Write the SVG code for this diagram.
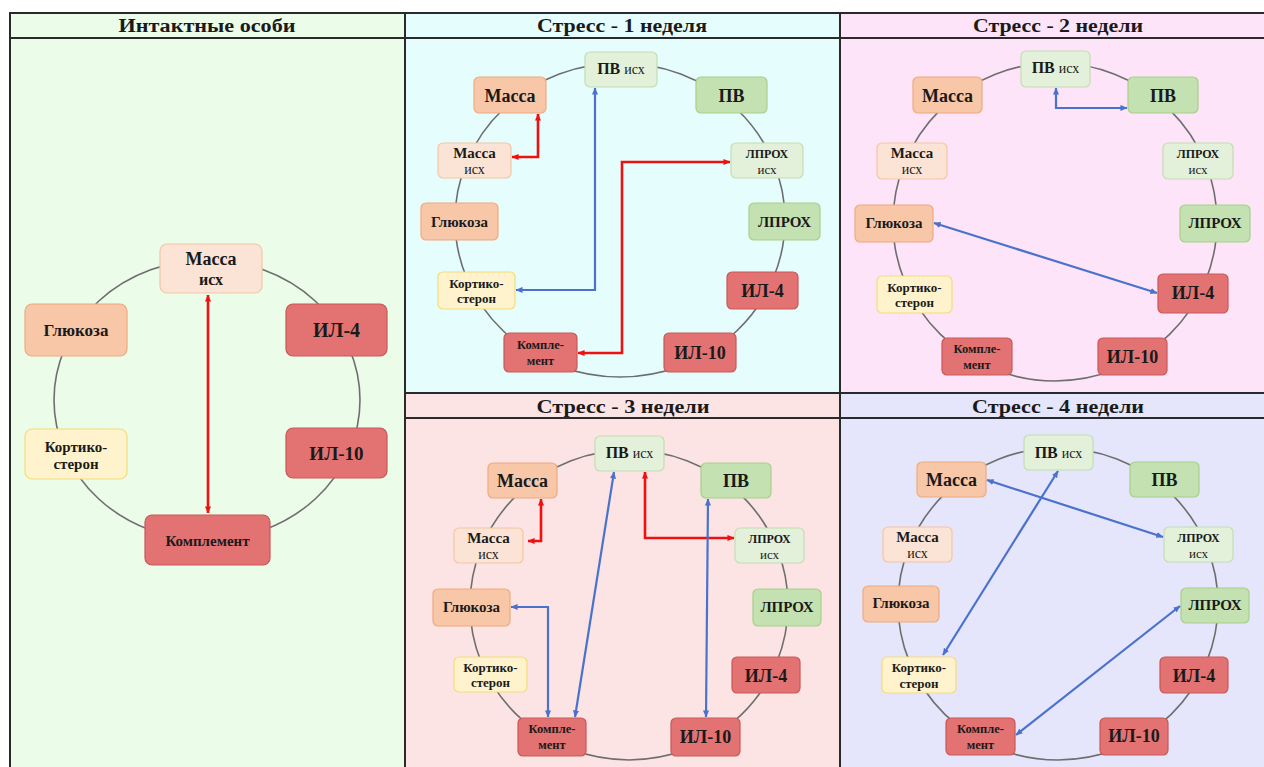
<svg xmlns="http://www.w3.org/2000/svg" width="1264" height="767" viewBox="0 0 1264 767">
<style>
text{font-family:"Liberation Serif","Times New Roman",serif;font-weight:bold;fill:#1a1a1a;text-anchor:middle}
.ttl{font-size:18px}
.thin{font-weight:normal}
.ring{fill:none;stroke:#6e6e6e;stroke-width:1.6}
.lp{fill:#fbe4d5;stroke:#f3c6a6;stroke-width:1.2}
.pe{fill:#f7c7a8;stroke:#eeaa80;stroke-width:1.2}
.rd{fill:#e37272;stroke:#c95858;stroke-width:1.2}
.ye{fill:#fff3cd;stroke:#f5dc7a;stroke-width:1.2}
.lg{fill:#e3f1da;stroke:#c4deb2;stroke-width:1.2}
.gr{fill:#c4e1b1;stroke:#a8cf8c;stroke-width:1.2}
.red{fill:none;stroke:#f01010;stroke-width:2.6;marker-start:url(#ar);marker-end:url(#ar)}
.blue{fill:none;stroke:#4a72cc;stroke-width:2.2;marker-start:url(#ab);marker-end:url(#ab)}
.grid{stroke:#2a2a2a;stroke-width:2;fill:none}
</style>
<defs>
<marker id="ar" viewBox="0 0 8 8" refX="7.5" refY="4" markerWidth="7" markerHeight="7" markerUnits="userSpaceOnUse" orient="auto-start-reverse"><path d="M0,0.5 L8,4 L0,7.5 z" fill="#f01010"/></marker>
<marker id="ab" viewBox="0 0 8 8" refX="7.5" refY="4" markerWidth="7" markerHeight="7" markerUnits="userSpaceOnUse" orient="auto-start-reverse"><path d="M0,0.5 L8,4 L0,7.5 z" fill="#4a72cc"/></marker>
</defs>
<rect x="0" y="0" width="1264" height="767" fill="#ffffff"/>
<g id="backgrounds">
<rect x="10" y="13" width="395" height="754" fill="#ebfce9"/>
<rect x="405" y="13" width="435" height="380" fill="#e6fdfd"/>
<rect x="840" y="13" width="424" height="380" fill="#fde4f8"/>
<rect x="405" y="393" width="435" height="374" fill="#fde4e4"/>
<rect x="840" y="393" width="424" height="374" fill="#e5e5fb"/>
</g>
<g id="grid">
<line class="grid" x1="10" y1="13" x2="1264" y2="13" stroke-width="2.5"/>
<line class="grid" x1="10" y1="38" x2="1264" y2="38"/>
<line class="grid" x1="405" y1="393" x2="1264" y2="393"/>
<line class="grid" x1="405" y1="418" x2="1264" y2="418"/>
<line class="grid" x1="10" y1="12" x2="10" y2="767" stroke-width="3"/>
<line class="grid" x1="405" y1="13" x2="405" y2="767"/>
<line class="grid" x1="840" y1="13" x2="840" y2="767"/>
</g>
<g id="titles">
<text class="ttl" x="207" y="32" textLength="177" lengthAdjust="spacingAndGlyphs">Интактные особи</text>
<text class="ttl" x="622" y="32" textLength="170" lengthAdjust="spacingAndGlyphs">Стресс - 1 неделя</text>
<text class="ttl" x="1058" y="32" textLength="170" lengthAdjust="spacingAndGlyphs">Стресс - 2 недели</text>
<text class="ttl" x="623" y="413" textLength="173" lengthAdjust="spacingAndGlyphs">Стресс - 3 недели</text>
<text class="ttl" x="1058" y="413" textLength="172" lengthAdjust="spacingAndGlyphs">Стресс - 4 недели</text>
</g>
<g id="rings">
<ellipse class="ring" cx="207" cy="400" rx="153" ry="140" stroke="#4a5a4a" stroke-width="1.8"/>
<ellipse class="ring" cx="620" cy="220" rx="165" ry="157"/>
<ellipse class="ring" cx="1055" cy="222" rx="162" ry="159"/>
<ellipse class="ring" cx="629" cy="605" rx="159" ry="155"/>
<ellipse class="ring" cx="1058" cy="604" rx="160" ry="156"/>
</g>

<!-- Intact panel -->
<g id="i-massa-ish"><rect class="lp" x="160" y="244" width="102" height="49" rx="7"/><text x="211" y="265" font-size="18">Масса</text><text x="211" y="285" font-size="16">исх</text></g>
<g id="i-glukoza"><rect class="pe" x="25" y="304" width="102" height="52" rx="7"/><text x="76" y="336" font-size="17">Глюкоза</text></g>
<g id="i-il4"><rect class="rd" x="286" y="304" width="101" height="52" rx="7"/><text x="336.5" y="337" font-size="20">ИЛ-4</text></g>
<g id="i-il10"><rect class="rd" x="286" y="428" width="101" height="50" rx="7"/><text x="336.5" y="460" font-size="19">ИЛ-10</text></g>
<g id="i-kortiko"><rect class="ye" x="25" y="429" width="102" height="50" rx="7"/><text x="76" y="452" font-size="15">Кортико-</text><text x="76" y="469" font-size="15">стерон</text></g>
<g id="i-komplement"><rect class="rd" x="145" y="515" width="125" height="50" rx="7"/><text x="207.5" y="546" font-size="15">Комплемент</text></g>

<!-- 1 week -->
<g id="w1-pv-ish"><rect class="lg" x="585" y="52" width="72" height="35" rx="5"/><text x="621" y="74" font-size="16">ПВ <tspan class="thin" font-size="14">исх</tspan></text></g>
<g id="w1-massa"><rect class="pe" x="474" y="77" width="72" height="36" rx="5"/><text x="510" y="102" font-size="18">Масса</text></g>
<g id="w1-pv"><rect class="gr" x="696" y="77" width="71" height="36" rx="5"/><text x="731.5" y="102" font-size="18">ПВ</text></g>
<g id="w1-massa-ish"><rect class="lp" x="438" y="143" width="73" height="35" rx="5"/><text x="474.5" y="158" font-size="15">Масса</text><text class="thin" x="474.5" y="174" font-size="14">исх</text></g>
<g id="w1-lprox-ish"><rect class="lg" x="731" y="143" width="72" height="35" rx="5"/><text x="767" y="158" font-size="12">ЛПРОХ</text><text class="thin" x="767" y="174" font-size="13">исх</text></g>
<g id="w1-glukoza"><rect class="pe" x="421" y="203" width="77" height="37" rx="5"/><text x="459.5" y="227" font-size="15">Глюкоза</text></g>
<g id="w1-lprox"><rect class="gr" x="749" y="203" width="71" height="37" rx="5"/><text x="784.5" y="227" font-size="15">ЛПРОХ</text></g>
<g id="w1-kortiko"><rect class="ye" x="438" y="272" width="77" height="37" rx="5"/><text x="476.5" y="288" font-size="13">Кортико-</text><text x="476.5" y="303" font-size="13">стерон</text></g>
<g id="w1-il4"><rect class="rd" x="727" y="272" width="71" height="37" rx="5"/><text x="762.5" y="297" font-size="18">ИЛ-4</text></g>
<g id="w1-komplement"><rect class="rd" x="504" y="333" width="73" height="39" rx="5"/><text x="540.5" y="349" font-size="12.5">Компле-</text><text x="540.5" y="365" font-size="12.5">мент</text></g>
<g id="w1-il10"><rect class="rd" x="664" y="333" width="72" height="39" rx="5"/><text x="700" y="359" font-size="18">ИЛ-10</text></g>

<!-- 2 weeks -->
<g id="w2-pv-ish"><rect class="lg" x="1021" y="51" width="69" height="36" rx="5"/><text x="1055.5" y="73" font-size="16">ПВ <tspan class="thin" font-size="14">исх</tspan></text></g>
<g id="w2-massa"><rect class="pe" x="913" y="77" width="69" height="36" rx="5"/><text x="947.5" y="102" font-size="18">Масса</text></g>
<g id="w2-pv"><rect class="gr" x="1128" y="77" width="70" height="36" rx="5"/><text x="1163" y="102" font-size="18">ПВ</text></g>
<g id="w2-massa-ish"><rect class="lp" x="877" y="143" width="70" height="36" rx="5"/><text x="912" y="158" font-size="15">Масса</text><text class="thin" x="912" y="174" font-size="14">исх</text></g>
<g id="w2-lprox-ish"><rect class="lg" x="1163" y="143" width="70" height="36" rx="5"/><text x="1198" y="158" font-size="12">ЛПРОХ</text><text class="thin" x="1198" y="174" font-size="13">исх</text></g>
<g id="w2-glukoza"><rect class="pe" x="855" y="205" width="78" height="37" rx="5"/><text x="894" y="228" font-size="15">Глюкоза</text></g>
<g id="w2-lprox"><rect class="gr" x="1180" y="205" width="70" height="37" rx="5"/><text x="1215" y="228" font-size="15">ЛПРОХ</text></g>
<g id="w2-kortiko"><rect class="ye" x="877" y="276" width="75" height="37" rx="5"/><text x="914.5" y="292" font-size="13">Кортико-</text><text x="914.5" y="307" font-size="13">стерон</text></g>
<g id="w2-il4"><rect class="rd" x="1158" y="274" width="70" height="39" rx="5"/><text x="1193" y="299" font-size="18">ИЛ-4</text></g>
<g id="w2-komplement"><rect class="rd" x="942" y="338" width="70" height="37" rx="5"/><text x="977" y="353" font-size="12.5">Компле-</text><text x="977" y="369" font-size="12.5">мент</text></g>
<g id="w2-il10"><rect class="rd" x="1098" y="338" width="69" height="37" rx="5"/><text x="1132.5" y="363" font-size="18">ИЛ-10</text></g>

<!-- 3 weeks -->
<g id="w3-pv-ish"><rect class="lg" x="595" y="436" width="69" height="35" rx="5"/><text x="629.5" y="458" font-size="16">ПВ <tspan class="thin" font-size="14">исх</tspan></text></g>
<g id="w3-massa"><rect class="pe" x="488" y="463" width="69" height="35" rx="5"/><text x="522.5" y="487" font-size="18">Масса</text></g>
<g id="w3-pv"><rect class="gr" x="701" y="463" width="70" height="35" rx="5"/><text x="736" y="487" font-size="18">ПВ</text></g>
<g id="w3-massa-ish"><rect class="lp" x="454" y="528" width="69" height="35" rx="5"/><text x="488.5" y="543" font-size="15">Масса</text><text class="thin" x="488.5" y="559" font-size="14">исх</text></g>
<g id="w3-lprox-ish"><rect class="lg" x="735" y="528" width="69" height="35" rx="5"/><text x="769.5" y="543" font-size="12">ЛПРОХ</text><text class="thin" x="769.5" y="559" font-size="13">исх</text></g>
<g id="w3-glukoza"><rect class="pe" x="433" y="589" width="77" height="37" rx="5"/><text x="471.5" y="612" font-size="15">Глюкоза</text></g>
<g id="w3-lprox"><rect class="gr" x="753" y="589" width="68" height="37" rx="5"/><text x="787" y="612" font-size="15">ЛПРОХ</text></g>
<g id="w3-kortiko"><rect class="ye" x="454" y="657" width="73" height="35" rx="5"/><text x="490.5" y="672" font-size="13">Кортико-</text><text x="490.5" y="687" font-size="13">стерон</text></g>
<g id="w3-il4"><rect class="rd" x="732" y="657" width="68" height="36" rx="5"/><text x="766" y="682" font-size="18">ИЛ-4</text></g>
<g id="w3-komplement"><rect class="rd" x="518" y="718" width="68" height="38" rx="5"/><text x="552" y="733" font-size="12.5">Компле-</text><text x="552" y="749" font-size="12.5">мент</text></g>
<g id="w3-il10"><rect class="rd" x="671" y="718" width="69" height="38" rx="5"/><text x="705.5" y="743" font-size="18">ИЛ-10</text></g>

<!-- 4 weeks -->
<g id="w4-pv-ish"><rect class="lg" x="1024" y="435" width="69" height="35" rx="5"/><text x="1058.5" y="458" font-size="16">ПВ <tspan class="thin" font-size="14">исх</tspan></text></g>
<g id="w4-massa"><rect class="pe" x="917" y="462" width="69" height="35" rx="5"/><text x="951.5" y="486" font-size="18">Масса</text></g>
<g id="w4-pv"><rect class="gr" x="1130" y="462" width="69" height="35" rx="5"/><text x="1164.5" y="486" font-size="18">ПВ</text></g>
<g id="w4-massa-ish"><rect class="lp" x="883" y="527" width="69" height="35" rx="5"/><text x="917.5" y="542" font-size="15">Масса</text><text class="thin" x="917.5" y="558" font-size="14">исх</text></g>
<g id="w4-lprox-ish"><rect class="lg" x="1164" y="527" width="69" height="35" rx="5"/><text x="1198.5" y="542" font-size="12">ЛПРОХ</text><text class="thin" x="1198.5" y="558" font-size="13">исх</text></g>
<g id="w4-glukoza"><rect class="pe" x="863" y="586" width="76" height="36" rx="5"/><text x="901" y="608" font-size="15">Глюкоза</text></g>
<g id="w4-lprox"><rect class="gr" x="1181" y="588" width="68" height="35" rx="5"/><text x="1215" y="610" font-size="15">ЛПРОХ</text></g>
<g id="w4-kortiko"><rect class="ye" x="882" y="657" width="74" height="36" rx="5"/><text x="919" y="672" font-size="13">Кортико-</text><text x="919" y="688" font-size="13">стерон</text></g>
<g id="w4-il4"><rect class="rd" x="1160" y="657" width="68" height="36" rx="5"/><text x="1194" y="682" font-size="18">ИЛ-4</text></g>
<g id="w4-komplement"><rect class="rd" x="946" y="718" width="69" height="37" rx="5"/><text x="980.5" y="733" font-size="12.5">Компле-</text><text x="980.5" y="749" font-size="12.5">мент</text></g>
<g id="w4-il10"><rect class="rd" x="1100" y="718" width="68" height="37" rx="5"/><text x="1134" y="742" font-size="18">ИЛ-10</text></g>

<g id="connectors">
<path class="red" d="M208,295 V513" stroke-width="3"/>
<path class="red" d="M538,114 V157 H512"/>
<path class="blue" d="M595,88 V290 H516"/>
<path class="red" d="M730,162 H622 V353 H578"/>
<path class="blue" d="M1056,88 V108 H1127"/>
<path class="blue" d="M934,223 L1157,293"/>
<path class="red" d="M541,499 V541 H528"/>
<path class="red" d="M645,472 V538 H734"/>
<path class="blue" d="M511,607 H548 V717"/>
<path class="blue" d="M614,472 L575,717"/>
<path class="blue" d="M708,499 L706,717"/>
<path class="blue" d="M987,480 L1163,537"/>
<path class="blue" d="M1058,471 L943,655"/>
<path class="blue" d="M1180,606 L1016,735"/>
</g>
</svg>
